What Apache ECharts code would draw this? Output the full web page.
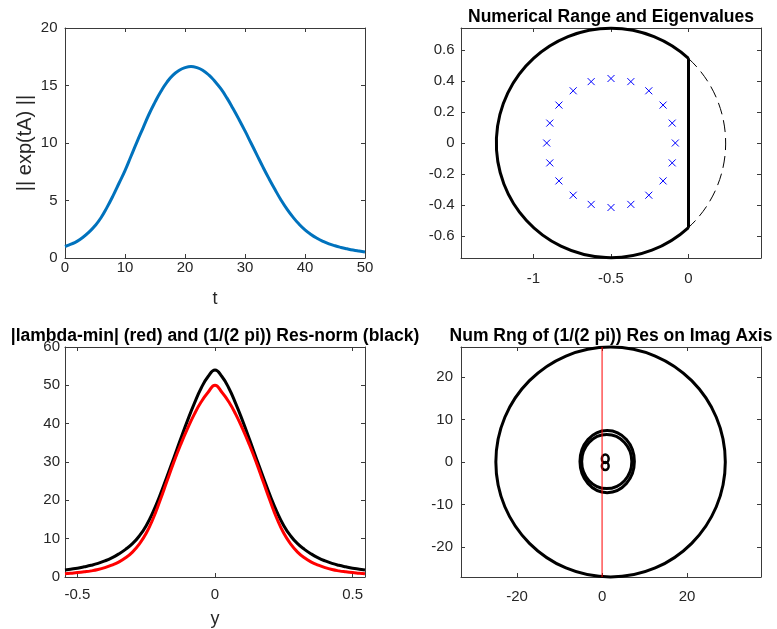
<!DOCTYPE html>
<html>
<head>
<meta charset="utf-8">
<script src="https://cdn.jsdelivr.net/npm/echarts@6.0.0/dist/echarts.min.js"></script>
<style>
    html, body { margin: 0; padding: 0; background: #fff; }
    #chart { width: 777px; height: 629px; }
</style>
</head>
<body>
<div id="chart"></div>
<script>
// ||exp(tA)|| against t
var tVals = [0, 1, 2, 3, 4, 5, 6, 7, 8, 9, 10, 11, 12, 13, 14, 15, 16, 17, 18, 19, 20, 21, 22, 23, 24, 25,
             26, 27, 28, 29, 30, 31, 32, 33, 34, 35, 36, 37, 38, 39, 40, 41, 42, 43, 44, 45, 46, 47, 48, 49, 50];
var expNorm = [1.0, 1.2, 1.45, 1.8, 2.25, 2.8, 3.5, 4.4, 5.4, 6.5, 7.6, 8.85, 10.1, 11.3, 12.5, 13.55, 14.5, 15.3, 15.9, 16.3, 16.55, 16.65, 16.55, 16.3, 15.9, 15.35,
               14.7, 13.9, 13.0, 12.05, 11.05, 10.0, 8.95, 7.9, 6.9, 5.95, 5.05, 4.25, 3.55, 2.95, 2.45, 2.05, 1.72, 1.45, 1.23, 1.06, 0.92, 0.8, 0.69, 0.6, 0.52];

// numerical range (circle cut at x = 0) and eigenvalues
var rangeCircle = [-0.5, 0, 0.74, 0];
var eigRe = [-0.085, -0.105, -0.164, -0.256, -0.372, -0.5, -0.628, -0.744, -0.836, -0.895, -0.915,
             -0.895, -0.836, -0.744, -0.628, -0.5, -0.372, -0.256, -0.164, -0.105];
var eigIm = [0, 0.128, 0.244, 0.336, 0.395, 0.415, 0.395, 0.336, 0.244, 0.128, 0,
             -0.128, -0.244, -0.336, -0.395, -0.415, -0.395, -0.336, -0.244, -0.128];

// |lambda-min| and resolvent norm along imaginary axis
var yVals = [-0.545, -0.525, -0.5, -0.475, -0.45, -0.425, -0.4, -0.375, -0.35, -0.325, -0.3, -0.275, -0.25, -0.225, -0.2, -0.175, -0.15, -0.125, -0.1, -0.075, -0.05, -0.025, 0,
             0.025, 0.05, 0.075, 0.1, 0.125, 0.15, 0.175, 0.2, 0.225, 0.25, 0.275, 0.3, 0.325, 0.35, 0.375, 0.4, 0.425, 0.45, 0.475, 0.5, 0.525, 0.545];
var lamMin = [0.85, 1.0, 1.15, 1.35, 1.6, 1.95, 2.45, 3.1, 3.9, 5.0, 6.5, 8.6, 11.4, 15.2, 19.9, 24.9, 29.9, 34.5, 38.7, 42.5, 45.7, 48.2, 50.0,
              48.2, 45.7, 42.5, 38.7, 34.5, 29.9, 24.9, 19.9, 15.2, 11.4, 8.6, 6.5, 5.0, 3.9, 3.1, 2.45, 1.95, 1.6, 1.35, 1.15, 1.0, 0.85];
var resNorm = [1.85, 2.05, 2.3, 2.65, 3.05, 3.55, 4.2, 5.0, 6.0, 7.2, 8.7, 10.7, 13.4, 17.0, 21.3, 26.1, 31.0, 36.0, 40.8, 45.3, 49.3, 52.3, 54.0,
               52.3, 49.3, 45.3, 40.8, 36.0, 31.0, 26.1, 21.3, 17.0, 13.4, 10.7, 8.7, 7.2, 6.0, 5.0, 4.2, 3.55, 3.05, 2.65, 2.3, 2.05, 1.85];

// numerical ranges of the resolvent: centre x, centre y, radius x, radius y, width
var ringCx = [2, 1.2, 1.1, 0.75, 0.75];
var ringCy = [0, 0.1, 0.1, 0.75, -0.95];
var ringRx = [27, 6.4, 5.9, 0.8, 0.8];
var ringRy = [27, 7.3, 6.35, 1.0, 0.95];
var ringW = [3, 3, 3, 2.5, 2.5];
var imagAxisY = [-27, 27];

// axis extents and ticks
var xExt = [[0, 50], [-1.468, 0.468], [-0.545, 0.545], [-33.2, 37.4]];
var yExt = [[0, 20], [-0.74, 0.74], [0, 60], [-27, 27]];
var xTicks = [[0, 10, 20, 30, 40, 50], [-1, -0.5, 0], [-0.5, 0, 0.5], [-20, 0, 20]];
var yTicks = [[0, 5, 10, 15, 20], [-0.6, -0.4, -0.2, 0, 0.2, 0.4, 0.6], [0, 10, 20, 30, 40, 50, 60], [-20, -10, 0, 10, 20]];
var xNames = ['t', '', 'y', ''];
var yNames = ['|| exp(tA) ||', '', '', ''];

var xMargin = [2.5, 13, 10, 12];
var yMargin = [7.5, 6.5, 5, 8];
var xNameGap = [32, 30, 33, 30];

var axisColor = '#3a3a3a';
var font = 'Liberation Sans, Arial, Helvetica, sans-serif';

var grids = [
    {left: 65, top: 28, width: 300, height: 230},
    {left: 461, top: 28, width: 300, height: 230},
    {left: 65, top: 347, width: 300, height: 230},
    {left: 461, top: 347, width: 300, height: 230}
];

function makeAxis(g, ext, ticks, pos, withLabel, name, margin, gap) {
    return {
        type: 'value', gridIndex: g, min: ext[0], max: ext[1], position: pos,
        name: withLabel ? name : '', nameLocation: 'middle', nameGap: gap,
        nameTextStyle: {color: '#262626', fontSize: (pos == 'left') ? 20 : 18, fontFamily: font},
        splitLine: {show: false},
        axisLine: {show: true, onZero: false, lineStyle: {color: axisColor, width: 1}},
        axisTick: {show: true, inside: true, length: 4, customValues: ticks, lineStyle: {color: axisColor}},
        axisLabel: {show: withLabel, customValues: ticks, margin: margin,
            color: '#262626', fontSize: 15, fontFamily: font}
    };
}

var xAxes = [], yAxes = [];
for (var g = 0; g < 4; g++) {
    xAxes.push(makeAxis(g, xExt[g], xTicks[g], 'bottom', true, xNames[g], xMargin[g], xNameGap[g]));
    xAxes.push(makeAxis(g, xExt[g], xTicks[g], 'top', false, '', 8, 30));
    yAxes.push(makeAxis(g, yExt[g], yTicks[g], 'left', true, yNames[g], yMargin[g], 30));
    yAxes.push(makeAxis(g, yExt[g], yTicks[g], 'right', false, '', 8, 30));
}

function pairs(xs, ys) {
    var out = [];
    for (var i = 0; i < xs.length; i++) out.push([xs[i], ys[i]]);
    return out;
}

var ringData = [];
for (var i = 0; i < ringCx.length; i++) {
    ringData.push([ringCx[i], ringCy[i], ringRx[i], ringRy[i], ringW[i]]);
}

var titleStyle = {color: '#000', fontSize: 17.5, fontWeight: 'bold', fontFamily: font};

var chart = echarts.init(document.getElementById('chart'), null, {renderer: 'canvas'});
var option = {
    animation: false,
    backgroundColor: '#fff',
    title: [
        {text: 'Numerical Range and Eigenvalues', left: 611, top: 8.5, padding: 0, textAlign: 'center', textStyle: titleStyle},
        {text: '|lambda-min| (red) and (1/(2 pi)) Res-norm (black)', left: 215, top: 326.8, padding: 0, textAlign: 'center', textStyle: titleStyle},
        {text: 'Num Rng of (1/(2 pi)) Res on Imag Axis', left: 611, top: 326.8, padding: 0, textAlign: 'center', textStyle: titleStyle}
    ],
    grid: grids,
    xAxis: xAxes,
    yAxis: yAxes,
    series: [
        {
            type: 'line', xAxisIndex: 0, yAxisIndex: 0,
            data: pairs(tVals, expNorm), smooth: true, symbol: 'none',
            lineStyle: {color: '#0072bd', width: 3}
        },
        {
            // circle boundary, solid inside the left half plane
            type: 'custom', xAxisIndex: 2, yAxisIndex: 2,
            data: [rangeCircle],
            renderItem: function (params, api) {
                var c = api.coord([api.value(0), api.value(1)]);
                var s = api.size([api.value(2), api.value(2)]);
                var cut = api.coord([api.value(3), api.value(1)])[0];
                var a = Math.acos((cut - c[0]) / s[0]);
                var h = s[1] * Math.sin(a);
                return {
                    type: 'group',
                    children: [
                        {type: 'arc', shape: {cx: c[0], cy: c[1], r: s[0], startAngle: a, endAngle: 2 * Math.PI - a, clockwise: true},
                            style: {fill: 'none', stroke: '#000', lineWidth: 3}},
                        {type: 'arc', shape: {cx: c[0], cy: c[1], r: s[0], startAngle: -a, endAngle: a, clockwise: true},
                            style: {fill: 'none', stroke: '#000', lineWidth: 1, lineDash: [12, 6]}},
                        {type: 'line', shape: {x1: cut, y1: c[1] - h, x2: cut, y2: c[1] + h},
                            style: {stroke: '#000', lineWidth: 3}}
                    ]
                };
            }
        },
        {
            // eigenvalues as x markers
            type: 'custom', xAxisIndex: 2, yAxisIndex: 2,
            data: pairs(eigRe, eigIm),
            renderItem: function (params, api) {
                var p = api.coord([api.value(0), api.value(1)]);
                var d = 3.5;
                return {
                    type: 'group',
                    children: [
                        {type: 'line', shape: {x1: p[0] - d, y1: p[1] - d, x2: p[0] + d, y2: p[1] + d}, style: {stroke: '#0000ff', lineWidth: 1}},
                        {type: 'line', shape: {x1: p[0] - d, y1: p[1] + d, x2: p[0] + d, y2: p[1] - d}, style: {stroke: '#0000ff', lineWidth: 1}}
                    ]
                };
            }
        },
        {
            type: 'line', xAxisIndex: 4, yAxisIndex: 4,
            data: pairs(yVals, resNorm), smooth: true, symbol: 'none',
            lineStyle: {color: '#000', width: 3}
        },
        {
            type: 'line', xAxisIndex: 4, yAxisIndex: 4,
            data: pairs(yVals, lamMin), smooth: true, symbol: 'none',
            lineStyle: {color: '#ff0000', width: 3}
        },
        {
            type: 'custom', xAxisIndex: 6, yAxisIndex: 6,
            data: ringData,
            renderItem: function (params, api) {
                var c = api.coord([api.value(0), api.value(1)]);
                var s = api.size([api.value(2), api.value(3)]);
                return {
                    type: 'ellipse',
                    shape: {cx: c[0], cy: c[1], rx: s[0], ry: s[1]},
                    style: {fill: 'none', stroke: '#000', lineWidth: api.value(4)}
                };
            }
        },
        {
            type: 'line', xAxisIndex: 6, yAxisIndex: 6,
            data: pairs([0, 0], imagAxisY), symbol: 'none',
            lineStyle: {color: '#ff0000', width: 1}
        }
    ]
};
chart.setOption(option);
</script>
</body>
</html>
